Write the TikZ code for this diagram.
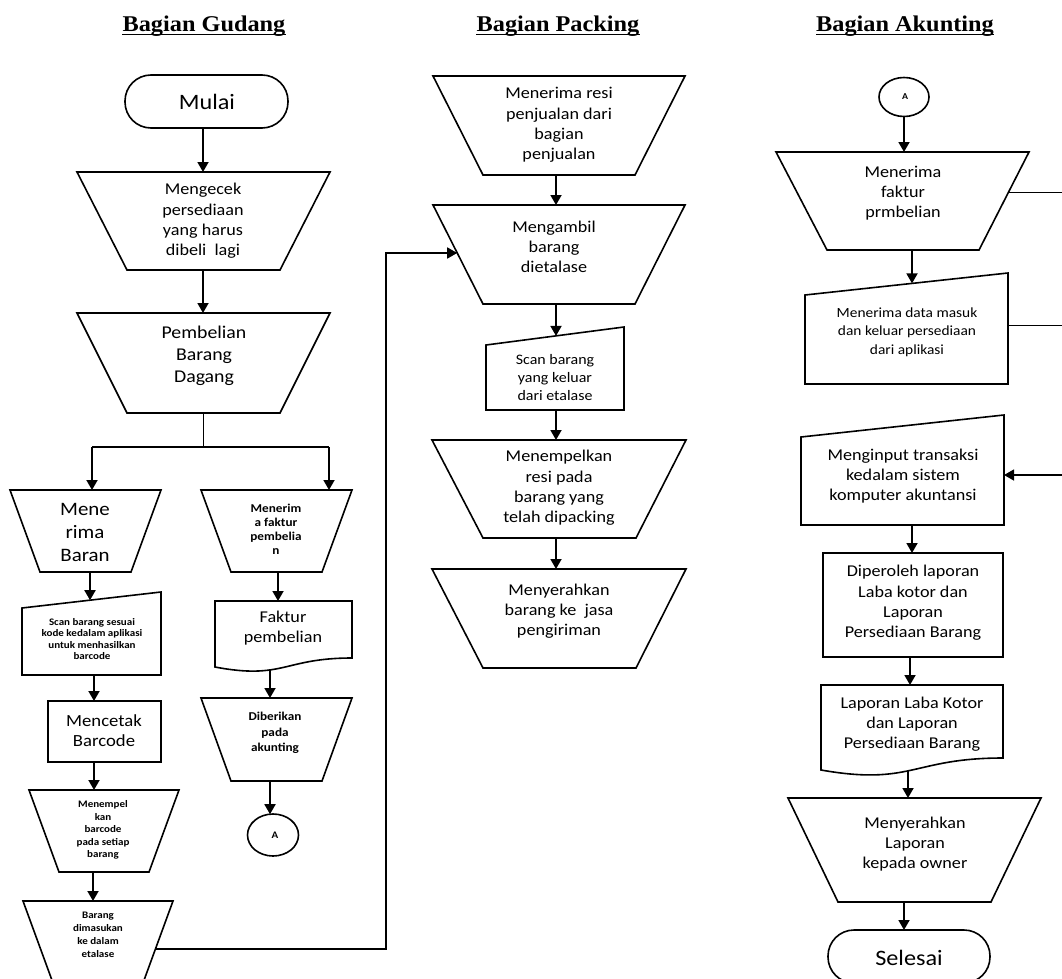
\documentclass[tikz,border=0pt]{standalone}
\usepackage{fontspec}
\setmainfont{Carlito}[FakeStretch=1.1]
\newfontfamily\titlefont{Liberation Serif}[FakeStretch=1.08]
\usetikzlibrary{arrows.meta}
\newcommand\fsz[2]{\fontsize{#1}{#2}\selectfont}
\tikzset{
  shp/.style={draw, line width=1.6pt, line join=miter},
  arr/.style={line width=1.8pt, -{Triangle[length=10pt,width=11pt]}},
  thinln/.style={line width=1pt},
  lbl/.style={align=center, inner sep=0pt},
  ttl/.style={inner sep=0pt, anchor=base, font=\titlefont\bfseries\fsz{22.5}{27}},
  fmain/.style={lbl, font=\fsz{16.5}{20.3}},
}
\begin{document}
\begin{tikzpicture}[x=1pt,y=-1pt]
\useasboundingbox (0,0) rectangle (1062,979);
\clip (0,0) rectangle (1062,979);

% ---------- titles
\node[ttl] (h1) at (204,32) {Bagian Gudang};
\node[ttl] (h2) at (558,32) {Bagian Packing};
\node[ttl] (h3) at (905,32) {Bagian Akunting};
\foreach \h in {h1,h2,h3}
  \draw[line width=0.9pt] ([yshift=-2.3pt]\h.base west) -- ([yshift=-2.3pt]\h.base east);

% ---------- Bagian Gudang
\draw[shp, rounded corners=26pt] (125,75) rectangle (288,128);
\node[lbl, font=\fsz{22}{26}] (mulai) at (207,102) {Mulai};
\coordinate (mulaiB) at (203,128);

\draw[shp] (77,172) -- (330,172) -- (280,270) -- (127,270) -- cycle;
\coordinate (cekT) at (203,172);
\coordinate (cekB) at (203,270);
\node[fmain] (cek) at (203,221) {Mengecek\\persediaan\\yang harus\\dibeli\ \ lagi};
\draw[arr] (mulaiB) -- (cekT);

\draw[shp] (77,313) -- (330,313) -- (280,413) -- (127,413) -- cycle;
\coordinate (beliT) at (203,313);
\coordinate (beliB) at (203,413);
\node[lbl, font=\fsz{18}{22}] (beli) at (204,356) {Pembelian\\Barang\\Dagang};
\draw[arr] (cekB) -- (beliT);

\coordinate (split) at (203,447);
\coordinate (splitL) at (92,447);
\coordinate (splitR) at (329,447);
\draw[thinln] (beliB) -- (split);
\draw[line width=1.4pt] (splitL) -- (splitR);

\draw[shp] (10,490) -- (161,490) -- (131,572) -- (40,572) -- cycle;
\coordinate (meneT) at (92,490);
\coordinate (meneB) at (90,572);
\node[lbl, font=\fsz{19}{23}] (mene) at (85,532) {Mene\\rima\\Baran};
\draw[arr] (splitL) -- (meneT);

\draw[shp] (201,490) -- (352,490) -- (322,572) -- (231,572) -- cycle;
\coordinate (fakT) at (329,490);
\coordinate (fakB) at (278,572);
\node[lbl, font=\bfseries\fsz{12}{14}] (fak) at (276,529) {Menerim\\a faktur\\pembelia\\n};
\draw[arr] (splitR) -- (fakT);

\draw[shp] (22,608) -- (161,592) -- (161,675) -- (22,675) -- cycle;
\coordinate (scanT) at (90,600.2);
\coordinate (scanB) at (94,675);
\node[lbl, font=\bfseries\fsz{10}{11.5}] (scan) at (92,639) {Scan barang sesuai\\kode kedalam aplikasi\\untuk menhasilkan\\barcode};
\draw[arr] (meneB) -- (scanT);

\draw[shp] (48,701) rectangle (161,762);
\coordinate (cetT) at (94,701);
\coordinate (cetB) at (94,762);
\node[lbl, font=\fsz{17}{20}] (cet) at (104,731) {Mencetak\\Barcode};
\draw[arr] (scanB) -- (cetT);

\draw[shp] (29,790) -- (179,790) -- (149,872) -- (59,872) -- cycle;
\coordinate (tmpT) at (94,790);
\coordinate (tmpB) at (93,872);
\node[lbl, font=\bfseries\fsz{10}{12.5}] (tmp) at (103,830) {Menempel\\kan\\barcode\\pada setiap\\barang};
\draw[arr] (cetB) -- (tmpT);

\draw[shp] (23,901) -- (173,901) -- (143,983) -- (53,983) -- cycle;
\coordinate (etT) at (93,901);
\coordinate (etR) at (155.4,949);
\node[lbl, font=\bfseries\fsz{10}{13}] (et) at (98,935) {Barang\\dimasukan\\ke dalam\\etalase};
\draw[arr] (tmpB) -- (etT);

\draw[shp] (215,601) -- (352,601) -- (352,658) .. controls (283.5,658) and (283.5,680) .. (215,667) -- cycle;
\coordinate (docT) at (278,601);
\coordinate (docB) at (270,670);
\node[lbl, font=\fsz{16.5}{20}] (doc) at (283,628) {Faktur\\pembelian};
\draw[arr] (fakB) -- (docT);

\draw[shp] (201,698) -- (352,698) -- (322,781) -- (231,781) -- cycle;
\coordinate (berT) at (270,698);
\coordinate (berB) at (270,781);
\node[lbl, font=\bfseries\fsz{12}{15.5}] (ber) at (275,733) {Diberikan\\pada\\akunting};
\draw[arr] (docB) -- (berT);

\draw[shp] (273,835) ellipse [x radius=25.5, y radius=21];
\coordinate (A1T) at (270,814.2);
\node[lbl, font=\bfseries\fsz{10}{12}] (A1) at (275,835) {A};
\draw[arr] (berB) -- (A1T);

% return line to packing
\coordinate (rt1) at (386,949);
\coordinate (rt2) at (386,253);
\coordinate (ambL) at (457.2,253);
\draw[arr, line width=1.6pt] (etR) -- (rt1) -- (rt2) -- (ambL);

% ---------- Bagian Packing
\draw[shp] (433,76) -- (685,76) -- (635,175) -- (483,175) -- cycle;
\coordinate (resiB) at (556,175);
\node[fmain] (resi) at (559,125) {Menerima resi\\penjualan dari\\bagian\\penjualan};

\draw[shp] (433,205) -- (685,205) -- (635,304) -- (483,304) -- cycle;
\coordinate (ambT) at (556,205);
\coordinate (ambB) at (556,304);
\node[fmain] (amb) at (554,247) {Mengambil\\barang\\dietalase};
\draw[arr] (resiB) -- (ambT);

\draw[shp] (486,345) -- (624,327) -- (624,410) -- (486,410) -- cycle;
\coordinate (scan2T) at (556,335.9);
\coordinate (scan2B) at (556,410);
\node[lbl, font=\fsz{14.5}{18}] (scan2) at (555,378) {Scan barang\\yang keluar\\dari etalase};
\draw[arr] (ambB) -- (scan2T);

\draw[shp] (432,440) -- (686,440) -- (636,538) -- (483,538) -- cycle;
\coordinate (resT) at (556,440);
\coordinate (resB) at (556,538);
\node[fmain] (res) at (559,488) {Menempelkan\\resi pada\\barang yang\\telah dipacking};
\draw[arr] (scan2B) -- (resT);

\draw[shp] (432,569) -- (686,569) -- (636,668) -- (483,668) -- cycle;
\coordinate (kirT) at (556,569);
\node[fmain] (kir) at (559,611) {Menyerahkan\\barang ke\ \ jasa\\pengiriman};
\draw[arr] (resB) -- (kirT);

% ---------- Bagian Akunting
\draw[shp] (904,97) ellipse [x radius=25, y radius=19.5];
\coordinate (A2B) at (904,116.5);
\node[lbl, font=\bfseries\fsz{9}{11}] (A2) at (905,97) {A};

\draw[shp] (776,152) -- (1029,152) -- (979,250) -- (827,250) -- cycle;
\coordinate (mfT) at (904,152);
\coordinate (mfB) at (912,250);
\coordinate (mfR) at (1008.6,192);
\node[fmain] (mf) at (903,193) {Menerima\\faktur\\prmbelian};
\draw[arr] (A2B) -- (mfT);

\draw[shp] (805,295) -- (1008,273) -- (1008,384) -- (805,384) -- cycle;
\coordinate (dmT) at (912,283.4);
\coordinate (dmR) at (1008,325);
\node[lbl, font=\fsz{14}{18.5}] (dm) at (907,332) {Menerima data masuk\\dan keluar persediaan\\dari aplikasi};
\draw[arr] (mfB) -- (dmT);

\coordinate (e1) at (1062,192);
\coordinate (e2) at (1062,325);
\coordinate (e3) at (1062,475);
\draw[thinln] (mfR) -- (e1);
\draw[thinln] (dmR) -- (e2);

\draw[shp] (801,437) -- (1004,415) -- (1004,525) -- (801,525) -- cycle;
\coordinate (inR) at (1004,475);
\coordinate (inB) at (912,525);
\node[fmain] (inp) at (903,476) {Menginput transaksi\\kedalam sistem\\komputer akuntansi};
\draw[arr, line width=1.4pt] (e3) -- (inR);

\draw[shp] (823,553) rectangle (1003,657);
\coordinate (dpT) at (912,553);
\coordinate (dpB) at (910,657);
\node[fmain] (dp) at (913,603) {Diperoleh laporan\\Laba kotor dan\\Laporan\\Persediaan Barang};
\draw[arr] (inB) -- (dpT);

\draw[shp] (821,685) -- (1003,685) -- (1003,758) .. controls (912,758) and (912,786) .. (821,770) -- cycle;
\coordinate (lapT) at (910,685);
\coordinate (lapB) at (908,771);
\node[fmain] (lap) at (912,724) {Laporan Laba Kotor\\dan Laporan\\Persediaan Barang};
\draw[arr] (dpB) -- (lapT);

\draw[shp] (788,798) -- (1041,798) -- (991,902) -- (838,902) -- cycle;
\coordinate (owT) at (908,798);
\coordinate (owB) at (904,902);
\node[fmain] (ow) at (915,844) {Menyerahkan\\Laporan\\kepada owner};
\draw[arr] (lapB) -- (owT);

\draw[shp, rounded corners=26pt] (828,930) rectangle (990,983);
\coordinate (selT) at (904,930);
\node[lbl, font=\fsz{22}{26}] (sel) at (909,958) {Selesai};
\draw[arr] (owB) -- (selT);
\end{tikzpicture}
\end{document}
